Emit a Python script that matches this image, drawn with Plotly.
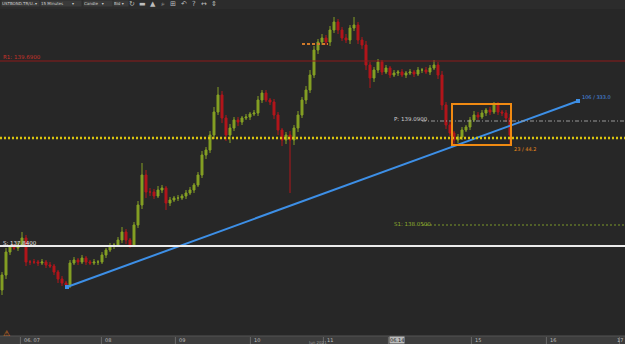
import plotly.graph_objects as go

# ---------------- data ----------------
first_open = 137.40
closes = [
    137.55, 137.78, 137.83, 137.82, 137.85, 137.92, 137.68, 137.68, 137.68, 137.67,
    137.68, 137.65, 137.64, 137.58, 137.51, 137.47, 137.45, 137.67, 137.70, 137.68,
    137.72, 137.68, 137.67, 137.68, 137.68, 137.75, 137.80, 137.84, 137.85, 137.90,
    137.98, 137.90, 137.85, 138.05, 138.25, 138.55, 138.38, 138.38, 138.34, 138.40,
    138.42, 138.27, 138.30, 138.32, 138.32, 138.34, 138.37, 138.40, 138.45, 138.55,
    138.75, 138.80, 138.95, 139.18, 139.35, 139.12, 138.95, 139.02, 139.10, 139.08,
    139.12, 139.13, 139.16, 139.17, 139.30, 139.37, 139.30, 139.28, 139.15, 139.00,
    138.90, 138.95, 138.90, 139.02, 139.15, 139.30, 139.40, 139.55, 139.80, 139.88,
    139.92, 139.88, 140.00, 140.08, 140.00, 139.92, 139.90, 140.02, 140.05, 139.90,
    139.85, 139.65, 139.52, 139.60, 139.68, 139.58, 139.62, 139.55, 139.57, 139.58,
    139.55, 139.57, 139.58, 139.56, 139.60, 139.60, 139.58, 139.62, 139.65, 139.55,
    139.25, 139.05, 138.97, 138.90, 138.93, 139.00, 139.03, 139.10, 139.15, 139.13,
    139.17, 139.20, 139.18, 139.25, 139.18, 139.17, 139.12, 138.95,
]
wick_hi = [
    0.03, 0.04, 0.02, 0.03, 0.03, 0.06, 0.03, 0.02, 0.03, 0.02,
    0.03, 0.02, 0.03, 0.02, 0.02, 0.03, 0.02, 0.03, 0.03, 0.02,
    0.03, 0.02, 0.02, 0.03, 0.02, 0.03, 0.02, 0.03, 0.02, 0.03,
    0.05, 0.03, 0.02, 0.03, 0.04, 0.12, 0.05, 0.04, 0.03, 0.04,
    0.03, 0.02, 0.03, 0.02, 0.03, 0.02, 0.03, 0.03, 0.02, 0.03,
    0.04, 0.03, 0.04, 0.05, 0.08, 0.04, 0.03, 0.04, 0.03, 0.03,
    0.02, 0.03, 0.02, 0.03, 0.04, 0.03, 0.03, 0.02, 0.03, 0.03,
    0.02, 0.03, 0.04, 0.03, 0.04, 0.03, 0.04, 0.05, 0.04, 0.03,
    0.04, 0.03, 0.04, 0.05, 0.03, 0.03, 0.04, 0.03, 0.08, 0.03,
    0.03, 0.04, 0.03, 0.03, 0.03, 0.02, 0.03, 0.02, 0.03, 0.02,
    0.03, 0.02, 0.03, 0.02, 0.03, 0.02, 0.03, 0.03, 0.05, 0.03,
    0.04, 0.03, 0.03, 0.02, 0.03, 0.03, 0.02, 0.03, 0.04, 0.03,
    0.03, 0.02, 0.03, 0.03, 0.03, 0.02, 0.03, 0.04,
]
wick_lo = [
    0.05, 0.04, 0.03, 0.02, 0.03, 0.02, 0.04, 0.03, 0.02, 0.03,
    0.02, 0.03, 0.02, 0.03, 0.04, 0.03, 0.03, 0.03, 0.02, 0.03,
    0.02, 0.03, 0.02, 0.02, 0.03, 0.02, 0.03, 0.02, 0.03, 0.02,
    0.03, 0.04, 0.03, 0.02, 0.03, 0.04, 0.06, 0.04, 0.03, 0.02,
    0.03, 0.07, 0.03, 0.02, 0.03, 0.02, 0.03, 0.02, 0.03, 0.02,
    0.03, 0.04, 0.03, 0.04, 0.03, 0.05, 0.06, 0.08, 0.03, 0.04,
    0.03, 0.02, 0.03, 0.02, 0.03, 0.03, 0.02, 0.03, 0.04, 0.05,
    0.06, 0.04, 0.53, 0.05, 0.04, 0.03, 0.04, 0.03, 0.03, 0.04,
    0.03, 0.03, 0.04, 0.03, 0.04, 0.03, 0.03, 0.04, 0.03, 0.04,
    0.04, 0.05, 0.10, 0.04, 0.03, 0.03, 0.02, 0.03, 0.02, 0.03,
    0.02, 0.03, 0.02, 0.03, 0.02, 0.03, 0.02, 0.03, 0.02, 0.04,
    0.05, 0.04, 0.03, 0.05, 0.03, 0.03, 0.02, 0.03, 0.02, 0.03,
    0.02, 0.03, 0.03, 0.02, 0.03, 0.03, 0.04, 0.10,
]

day_labels = ["06. 07", "08", "09", "10", "11", "14", "15", "16", "17"]
day_x = [5.5, 25.75, 44.25, 63.0, 81.25, 97.5, 118.25, 137.0, 155.25]
month_label = "Jun 2021"

level_r1 = 139.69
level_yellow = 138.92
level_p = 139.09
level_s1 = 138.05
level_white = 137.84
trend_x = [16.75, 144.5]
trend_y = [137.43, 139.29]
box_x = [113.0, 127.75]
box_y = [138.85, 139.26]
entry_x = [75.5, 82.0]
entry_y = 139.86

toolbar_items = ["USTBOND.TR/U..▾", "15 Minutes       ▾", "Candle   ▾", "Bid ▾"]
toolbar_x = [0.5, 40, 83, 113]
toolbar_w = [37, 40, 28, 14]
toolbar_icons = ["↻", "▬", "▲", "⌕", "⊞", "↶", "?", "↔", "⇕"]

# --------------- derived ---------------
n = len(closes)
opens = [first_open] + closes[:-1]
highs = [max(o, c) + w for o, c, w in zip(opens, closes, wick_hi)]
lows = [min(o, c) - w for o, c, w in zip(opens, closes, wick_lo)]
xs = [i + 0.5 for i in range(n)]

BG = "#272727"
XMAX = 156.25
YMIN, YMAX = 136.94, 140.30

fig = go.Figure()
fig.add_trace(go.Candlestick(
    x=xs, open=opens, high=highs, low=lows, close=closes,
    increasing=dict(line=dict(color="#85a024", width=1), fillcolor="#85a024"),
    decreasing=dict(line=dict(color="#b3161b", width=1), fillcolor="#b3161b"),
    whiskerwidth=0, hoverinfo="skip", showlegend=False,
))

fig.add_trace(go.Scatter(
    x=trend_x, y=trend_y, mode="lines+markers",
    line=dict(color="#3d8fe6", width=2),
    marker=dict(symbol="square", size=4, color="#3d8fe6"),
    hoverinfo="skip", showlegend=False,
))

shapes = []
shapes.append(dict(type="line", xref="x", yref="y", x0=0, x1=XMAX, y0=level_r1, y1=level_r1,
                   line=dict(color="#8e1b1b", width=1.2)))
shapes.append(dict(type="line", xref="x", yref="y", x0=0, x1=XMAX, y0=level_yellow, y1=level_yellow,
                   line=dict(color="#d9c40f", width=2.5, dash="2px,2px")))
shapes.append(dict(type="line", xref="x", yref="y", x0=0, x1=XMAX, y0=level_white, y1=level_white,
                   line=dict(color="#ececec", width=2)))
shapes.append(dict(type="line", xref="x", yref="y", x0=105.5, x1=XMAX, y0=level_p, y1=level_p,
                   line=dict(color="#9a9a9a", width=1, dash="4px,2px,1px,2px")))
shapes.append(dict(type="line", xref="x", yref="y", x0=105.5, x1=XMAX, y0=level_s1, y1=level_s1,
                   line=dict(color="#7d9a2a", width=1, dash="2px,2px")))
shapes.append(dict(type="rect", xref="x", yref="y", x0=box_x[0], x1=box_x[1], y0=box_y[0], y1=box_y[1],
                   line=dict(color="#f08a12", width=2), fillcolor="rgba(0,0,0,0)"))
shapes.append(dict(type="line", xref="x", yref="y", x0=entry_x[0], x1=entry_x[1], y0=entry_y, y1=entry_y,
                   line=dict(color="#d07a2a", width=2, dash="3px,2px")))
shapes.append(dict(type="rect", xref="paper", yref="paper", x0=0, x1=1, y0=1 - 9 / 336, y1=1,
                   line=dict(width=0), fillcolor="#2c2c2c", layer="below"))
shapes.append(dict(type="rect", xref="paper", yref="paper", x0=0, x1=1, y0=-8 / 336, y1=0,
                   line=dict(width=0), fillcolor="#3d3d3d"))
shapes.append(dict(type="line", xref="paper", yref="paper", x0=0, x1=1, y0=0, y1=0,
                   line=dict(color="#555555", width=1)))
for dx in day_x:
    shapes.append(dict(type="line", xref="x", yref="paper", x0=dx - 0.4, x1=dx - 0.4,
                       y0=-8 / 336, y1=-1 / 336, line=dict(color="#6a6a6a", width=1)))

ann = []
def label(x, y, text, color, size=6, xanchor="left", xref="x", yref="y", bg=None):
    d = dict(x=x, y=y, xref=xref, yref=yref, text=text, showarrow=False,
             font=dict(color=color, size=size, family="DejaVu Sans"),
             xanchor=xanchor, yanchor="middle")
    if bg:
        d["bgcolor"] = bg
        d["borderpad"] = 0
    ann.append(d)

label(0.3, level_r1 + 0.04, "R1: 139.6900", "#c8322a", size=5.5)
label(0.3, level_white + 0.03, "S: 137.8400", "#e6e6e6", size=5.5)
label(98.0, level_p + 0.02, "P: 139.0900", "#d0d0d0", size=5.5)
label(98.0, level_s1 + 0.01, "S1: 138.0500", "#8fae2e", size=5.5)
label(trend_x[1] + 0.5, trend_y[1] + 0.04, "106 / 333.0", "#4a90e2", size=5)
label(box_x[1] + 0.2, box_y[0] - 0.04, "23 / 44.2", "#e8891a", size=5)

for dx, t in zip(day_x, day_labels):
    if t == "14":
        label(dx - 0.2, -3.5 / 336, "06.14", "#222222", size=5, xref="x", yref="paper", bg="#b8b8b8")
    elif dx > 150:
        label(XMAX, -3.5 / 336, t, "#bdbdbd", size=5, xanchor="right", xref="x", yref="paper")
    else:
        label(dx, -3.5 / 336, t, "#bdbdbd", size=5, xref="x", yref="paper")
label(76.5, -6.8 / 336, month_label, "#9a9a9a", size=4, xref="x", yref="paper")
label(0.3, 3 / 336, "⚠", "#e0781e", size=8, xref="x", yref="paper")

for tx, t, w in zip(toolbar_x, toolbar_items, toolbar_w):
    ann.append(dict(x=tx / 625, y=1 - 4 / 336, xref="paper", yref="paper", text=t, showarrow=False,
                    font=dict(color="#cfcfcf", size=4, family="DejaVu Sans"),
                    xanchor="left", yanchor="middle", bgcolor="#3a3a3a", borderpad=0,
                    width=w, align="left"))
for k, ic in enumerate(toolbar_icons):
    ann.append(dict(x=(132 + k * 10.3) / 625, y=1 - 4 / 336, xref="paper", yref="paper", text=ic,
                    showarrow=False, font=dict(color="#bdbdbd", size=7, family="DejaVu Sans"),
                    xanchor="center", yanchor="middle"))

fig.update_layout(
    width=625, height=344,
    margin=dict(l=0, r=0, t=0, b=8),
    paper_bgcolor=BG, plot_bgcolor=BG,
    shapes=shapes, annotations=ann,
    xaxis=dict(range=[0, XMAX], showgrid=False, zeroline=False, showticklabels=False,
               rangeslider=dict(visible=False), fixedrange=True),
    yaxis=dict(range=[YMIN, YMAX], showgrid=False, zeroline=False, showticklabels=False,
               fixedrange=True),
    showlegend=False,
)

fig.write_html("out.html", config={"displayModeBar": False})
